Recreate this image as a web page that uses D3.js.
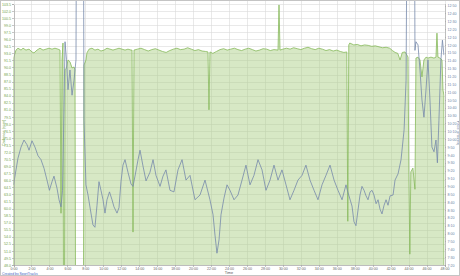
<!DOCTYPE html>
<html>
<head>
<meta charset="utf-8">
<title>Cadence and Pace</title>
<script src="https://cdn.jsdelivr.net/npm/d3@7"></script>
<style>
  body { margin: 0; background: #fff; }
  svg { display: block; font-family: "Liberation Sans", Arial, sans-serif; }
  .grid line { stroke: #dadada; stroke-width: 0.6px; shape-rendering: crispEdges; }
  .axis path, .axis line { stroke: #a0a0a0; stroke-width: 0.6px; shape-rendering: crispEdges; }
  .axis text { font-size: 3.6px; }
</style>
</head>
<body>
<svg width="460" height="276"></svg>
<script>
// minutes into the run
var cadenceTime = [0,0.28,0.5,0.84,1.06,1.39,1.73,2.06,2.28,2.62,2.95,3.29,3.62,3.95,4.29,4.62,4.96,5.18,5.29,5.40,5.51,5.62,5.74,5.90,6.07,6.29,6.52,6.74,6.85,6.96,7.74,7.85,8.07,8.18,8.41,8.74,9.07,9.41,9.74,10.08,10.41,10.75,11.08,11.42,11.75,12.08,12.42,12.75,13.09,13.20,13.31,13.42,13.8,14.2,14.6,15.0,15.4,15.8,16.2,16.6,17.0,17.4,17.8,18.2,18.6,19.0,19.4,19.8,20.2,20.6,21.0,21.4,21.66,21.77,21.88,22.2,22.6,23.0,23.4,23.8,24.2,24.6,25.0,25.4,25.8,26.2,26.6,27.0,27.4,27.8,28.2,28.6,29.0,29.46,29.57,29.68,30.0,30.4,30.8,31.2,31.6,32.0,32.4,32.8,33.2,33.6,34.0,34.4,34.8,35.2,35.6,36.0,36.4,36.8,37.12,37.23,37.34,37.45,37.9,38.3,38.7,39.1,39.5,39.9,40.3,40.7,41.1,41.5,41.9,42.2,42.5,42.8,43.05,43.3,43.6,43.83,43.94,44.03,44.14,44.25,44.48,44.71,44.82,45.05,45.27,45.49,45.71,45.94,46.16,46.49,46.83,47.05,47.16,47.27,47.49,47.72,47.83,47.94];
// rpm
var cadence = [92.0,93.7,94.1,93.7,94.1,93.7,93.9,93.3,93.1,93.7,94.1,93.7,93.9,94.1,93.9,94.1,93.9,93.7,59.0,91.6,95.2,0,89.5,89.9,91.6,91.2,89.9,90.1,89.5,0,0,90.5,91.6,93.1,93.9,94.1,93.7,93.9,93.5,93.7,94.1,93.9,93.7,93.9,94.1,93.9,93.7,93.9,93.7,93.7,55.0,93.7,93.9,94.1,93.8,93.5,93.8,94.0,93.7,93.4,93.2,93.6,93.9,94.1,93.8,93.9,94.2,93.9,93.6,93.8,93.5,93.4,93.3,81.0,93.3,93.0,93.4,93.8,94.0,93.7,93.9,94.1,93.8,93.6,93.9,94.1,93.8,93.5,93.7,94.0,93.9,93.6,93.8,93.7,103.3,93.7,93.9,94.1,93.9,94.2,94.0,93.8,94.1,94.3,94.0,93.8,94.1,93.9,93.6,93.8,93.5,93.7,93.4,93.2,93.3,57.3,94.8,95.2,94.8,94.9,94.6,94.8,94.7,94.5,94.6,94.4,94.2,94.3,94.1,93.6,93.2,93.0,91.6,93.2,93.3,92.6,92.2,68.2,50.3,67.8,68.6,64.1,92.0,92.2,91.6,88.0,91.6,92.2,92.0,92.2,92.0,92.2,97.3,92.2,92.0,91.6,85.2,84.1];

var paceTime = [0,0.28,0.5,0.84,1.17,1.5,1.73,2.06,2.39,2.73,3.06,3.4,3.73,4.0,4.29,4.51,4.84,5.07,5.29,5.46,5.62,5.74,5.9,6.07,6.29,6.52,6.74,6.96,7.07,7.74,7.85,8.07,8.3,8.57,8.85,9.07,9.3,9.52,9.74,9.97,10.19,10.41,10.69,10.97,11.19,11.53,11.75,11.97,12.19,12.42,12.75,13.09,13.31,13.53,13.87,14.09,14.42,14.76,15.2,15.54,15.87,16.32,16.65,16.98,17.43,17.87,18.32,18.77,19.21,19.66,20.21,20.77,21.33,21.88,22.22,22.44,22.66,22.89,23.11,23.44,23.78,24.11,24.56,25.0,25.45,25.89,26.34,26.78,27.23,27.68,28.12,28.57,29.01,29.46,29.9,30.35,30.79,31.24,31.68,32.13,32.57,33.02,33.47,33.91,34.36,34.8,35.25,35.7,36.14,36.59,37.03,37.23,37.7,37.92,38.14,38.37,38.59,38.81,39.04,39.26,39.48,39.71,39.93,40.15,40.38,40.6,40.82,41.04,41.27,41.49,41.71,41.94,42.27,42.49,42.83,43.16,43.5,43.72,43.94,44.6,44.71,44.82,45.05,45.27,45.49,45.71,45.94,46.16,46.38,46.6,46.83,47.05,47.21,47.38,47.6,47.77,47.94];
// seconds per mile
var pace = [542,561,576,590,599,593,586,598,590,579,574,563,548,535,546,553,538,523,514,535,637,724,701,663,688,656,675,701,1100,1100,624,542,529,510,491,488,516,546,535,523,506,523,533,523,514,506,513,546,567,574,558,543,540,553,574,586,566,547,558,574,554,540,553,561,535,533,561,574,548,554,523,529,548,523,504,478,455,472,504,525,542,535,523,529,548,567,542,554,574,561,535,548,567,548,561,542,523,535,548,554,567,548,535,523,542,554,567,548,535,523,542,533,515,495,490,510,529,540,535,528,523,533,535,529,518,523,511,505,516,523,516,528,529,548,556,574,612,675,1100,1100,713,724,720,688,650,628,663,701,650,590,584,599,570,624,701,726,707];

var timeTicks = d3.range(0, 49, 2);
var cadenceTicks = d3.range(48, 103.6, 1.5);
var paceTicks = d3.range(440, 771, 10);

var svg = d3.select("svg");
// note: "top" is taken by window.top, so plotTop
var plotLeft = 13.5, plotRight = 444.5, plotTop = 1, plotBottom = 265;

var x = d3.scaleLinear().domain([0, 48]).range([plotLeft, plotRight]);
var yc = d3.scaleLinear().domain([48, 103.5]).range([plotBottom, 4]);
var yp = d3.scaleLinear().domain([440, 772]).range([plotBottom, 4]);

function fmtPace(s) { return Math.floor(s / 60) + ":" + d3.format("02")(s % 60); }

svg.append("defs").append("clipPath").attr("id", "plot")
  .append("rect").attr("x", plotLeft).attr("y", plotTop)
  .attr("width", plotRight - plotLeft).attr("height", plotBottom - plotTop);

// grid
var grid = svg.append("g").attr("class", "grid");
grid.selectAll(".h").data(cadenceTicks).enter().append("line")
  .attr("x1", plotLeft).attr("x2", plotRight)
  .attr("y1", function(d){ return Math.round(yc(d)) + 0.5; })
  .attr("y2", function(d){ return Math.round(yc(d)) + 0.5; });
grid.selectAll(".v").data(timeTicks).enter().append("line")
  .attr("y1", plotTop).attr("y2", plotBottom)
  .attr("x1", function(d){ return Math.round(x(d)) + 0.5; })
  .attr("x2", function(d){ return Math.round(x(d)) + 0.5; });

var plot = svg.append("g").attr("clip-path", "url(#plot)");

var area = d3.area()
  .x(function(d, i){ return x(cadenceTime[i]); })
  .y0(plotBottom + 5)
  .y1(function(d){ return yc(d); });
plot.append("path").datum(cadence)
  .attr("d", area)
  .attr("fill", "#a6cd7e").attr("fill-opacity", 0.45)
  .attr("stroke", "#86b95a").attr("stroke-width", 0.8);

var line = d3.line()
  .x(function(d, i){ return x(paceTime[i]); })
  .y(function(d){ return yp(d); });
plot.append("path").datum(pace)
  .attr("d", line)
  .attr("fill", "none")
  .attr("stroke", "#7689ab").attr("stroke-width", 0.8);

// axes
svg.append("g").attr("class", "axis")
  .attr("transform", "translate(0," + plotBottom + ")")
  .call(d3.axisBottom(x).tickValues(timeTicks).tickSize(1.5).tickPadding(0.5)
    .tickFormat(function(d){ return d + ":00"; }))
  .selectAll("text").attr("fill", "#666");

svg.append("g").attr("class", "axis")
  .attr("transform", "translate(" + plotLeft + ",0)")
  .call(d3.axisLeft(yc).tickValues(cadenceTicks).tickSize(1.5).tickPadding(1)
    .tickFormat(d3.format(".1f")))
  .selectAll("text").attr("fill", "#6f9f45");

svg.append("g").attr("class", "axis")
  .attr("transform", "translate(" + plotRight + ",0)")
  .call(d3.axisRight(yp).tickValues(paceTicks).tickSize(1.5).tickPadding(1.5)
    .tickFormat(fmtPace))
  .selectAll("text").attr("fill", "#6b7fa6");

svg.append("text")
  .attr("transform", "translate(4.5," + ((plotTop + plotBottom) / 2) + ") rotate(-90)")
  .attr("text-anchor", "middle")
  .attr("font-size", 4).attr("fill", "#6f9f45")
  .text("Cadence (rpm)");

svg.append("text")
  .attr("transform", "translate(456.5," + ((plotTop + plotBottom) / 2) + ") rotate(90)")
  .attr("text-anchor", "middle")
  .attr("font-size", 4).attr("fill", "#6b7fa6")
  .text("Pace (min/mi)");

svg.append("text")
  .attr("x", (plotLeft + plotRight) / 2).attr("y", 274)
  .attr("text-anchor", "middle")
  .attr("font-size", 3.8).attr("fill", "#555")
  .text("Time");

svg.append("text")
  .attr("x", 2).attr("y", 274.5)
  .attr("font-size", 3.4).attr("fill", "#3d5fc4")
  .text("Created by SportTracks");

svg.append("rect")
  .attr("x", 0.5).attr("y", 0.5).attr("width", 459).attr("height", 275)
  .attr("fill", "none").attr("stroke", "#c4c4c4");
</script>
</body>
</html>
